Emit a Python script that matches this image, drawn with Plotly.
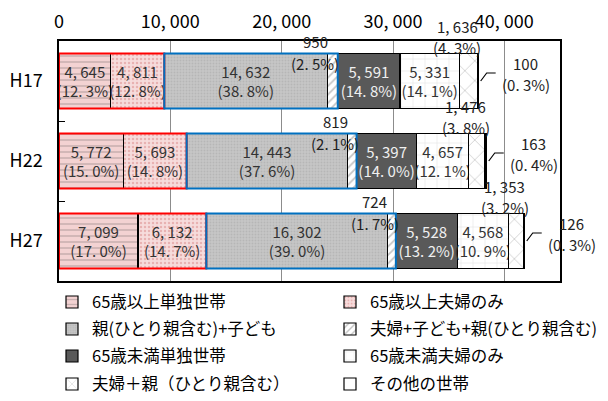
import plotly.graph_objects as go

# ---------------- data ----------------
years = ["H17", "H22", "H27"]
series_names = [
    "65歳以上単独世帯",
    "65歳以上夫婦のみ",
    "親(ひとり親含む)+子ども",
    "夫婦+子ども+親(ひとり親含む)",
    "65歳未満単独世帯",
    "65歳未満夫婦のみ",
    "夫婦＋親（ひとり親含む）",
    "その他の世帯",
]
v_single65 = [4645, 5772, 7099]
v_couple65 = [4811, 5693, 6132]
v_parent_child = [14632, 14443, 16302]
v_couple_child_parent = [950, 819, 724]
v_single_u65 = [5591, 5397, 5528]
v_couple_u65 = [5331, 4657, 4568]
v_couple_parent = [1636, 1476, 1353]
v_other = [100, 163, 126]

p_single65 = [12.3, 15.0, 17.0]
p_couple65 = [12.8, 14.8, 14.7]
p_parent_child = [38.8, 37.6, 39.0]
p_couple_child_parent = [2.5, 2.1, 1.7]
p_single_u65 = [14.8, 14.0, 13.2]
p_couple_u65 = [14.1, 12.1, 10.9]
p_couple_parent = [4.3, 3.8, 3.2]
p_other = [0.3, 0.4, 0.3]

x_tickvals = [0, 10000, 20000, 30000, 40000]
x_ticktext = ["0", "10, 000", "20, 000", "30, 000", "40, 000"]

values = [v_single65, v_couple65, v_parent_child, v_couple_child_parent,
          v_single_u65, v_couple_u65, v_couple_parent, v_other]
percents = [p_single65, p_couple65, p_parent_child, p_couple_child_parent,
            p_single_u65, p_couple_u65, p_couple_parent, p_other]

# ---------------- styles ----------------
FONT = "Noto Sans CJK JP, Noto Sans, sans-serif"
patterns = [
    dict(shape="-", bgcolor="#f3d2d2", fgcolor="#9a8a8a", size=6, solidity=0.25),
    dict(shape=".", bgcolor="#f6dcdc", fgcolor="#d98888", size=4, solidity=0.3),
    dict(shape=".", bgcolor="#c6c6c6", fgcolor="#a6a6a6", size=3, solidity=0.3),
    dict(shape="/", bgcolor="#ffffff", fgcolor="#8a8a8a", size=6, solidity=0.3),
    None,
    dict(shape="+", bgcolor="#ffffff", fgcolor="#bdbdbd", size=12, solidity=0.08),
    dict(shape="x", bgcolor="#ffffff", fgcolor="#8a8a8a", size=14, solidity=0.1),
    None,
]
colors = ["#f3d2d2", "#f6dcdc", "#c6c6c6", "#ffffff", "#595959", "#ffffff", "#ffffff", "#ffffff"]
text_colors = ["#333333", "#333333", "#333333", "#333333", "#f0f0f0", "#333333", "#333333", "#333333"]
inside_label = [True, True, True, False, True, True, False, False]
legend_ids = ["legend", "legend", "legend2", "legend2", "legend3", "legend3", "legend4", "legend4"]
# outside label offsets (px) for small segments: (xshift, yshift number line, yshift percent line)
outside_shift = {3: (-17, 40, 18), 6: (-11, 55, 34)}
other_shift = (47, 18, -3)

ML, MR, MT, MB = 51, 56, 33, 128
PLOT_H = 401 - MT - MB
LEG_FONT = 16.5


def fmt_num(n):
    return f"{n:,}".replace(",", ", ")


def fmt_pct(p):
    return "(" + f"{p:.1f}".replace(".", ". ") + "%)"


fig = go.Figure()
for k, name in enumerate(series_names):
    texts = [f"{fmt_num(v)}<br>{fmt_pct(p)}" if inside_label[k] else ""
             for v, p in zip(values[k], percents[k])]
    marker = dict(color=colors[k], line=dict(color="#000000", width=1.2))
    if patterns[k] is not None:
        marker["pattern"] = patterns[k]
    fig.add_trace(go.Bar(
        name=name, y=years, x=values[k], orientation="h",
        marker=marker, text=texts, textposition="inside",
        insidetextanchor="middle", textangle=0, constraintext="none",
        textfont=dict(family=FONT, size=15, color=text_colors[k]),
        hoverinfo="skip", cliponaxis=False, legend=legend_ids[k],
    ))

annotations = []
shapes = []
HALF = 0.345
lab_font = dict(family=FONT, size=15, color="#222222")
for i, yr in enumerate(years):
    cum = [0]
    for k in range(len(values)):
        cum.append(cum[-1] + values[k][i])
    total = cum[-1]
    for k, (dx, dy1, dy2) in outside_shift.items():
        xc = cum[k] + values[k][i] / 2
        annotations.append(dict(x=xc, y=i, xref="x", yref="y", text=fmt_num(values[k][i]),
                                showarrow=False, xshift=dx, yshift=dy1, font=lab_font))
        annotations.append(dict(x=xc, y=i, xref="x", yref="y", text=fmt_pct(percents[k][i]),
                                showarrow=False, xshift=dx, yshift=dy2, font=lab_font))
    dx, dy1, dy2 = other_shift
    annotations.append(dict(x=total, y=i, xref="x", yref="y", text=fmt_num(v_other[i]),
                            showarrow=False, xshift=dx, yshift=dy1, font=lab_font))
    annotations.append(dict(x=total, y=i, xref="x", yref="y", text=fmt_pct(p_other[i]),
                            showarrow=False, xshift=dx, yshift=dy2, font=lab_font))
    shapes.append(dict(
        type="path", xref="x", yref="y", xsizemode="pixel", ysizemode="pixel",
        xanchor=total, yanchor=i, path="M 2,0 L 8,8 L 17,8",
        line=dict(color="#000000", width=1.2)))
    shapes.append(dict(type="rect", xref="x", yref="y", x0=0, x1=cum[2],
                       y0=i - HALF, y1=i + HALF, line=dict(color="#ff0000", width=2)))
    shapes.append(dict(type="rect", xref="x", yref="y", x0=cum[2], x1=cum[4],
                       y0=i - HALF, y1=i + HALF, line=dict(color="#0070c0", width=2)))

# legend rows (screen y of row centres, figure drawn with an 8px page offset)
row_centres = [302, 329, 356, 384]
item_h = LEG_FONT * 1.3 + 3
legend_common = dict(orientation="h", xref="paper", yref="paper",
                     x=(44 - ML) / 501, xanchor="left", yanchor="top",
                     entrywidth=233, entrywidthmode="pixels", traceorder="normal",
                     font=dict(family=FONT, size=LEG_FONT, color="#000000"),
                     bgcolor="rgba(0,0,0,0)", itemclick=False, itemdoubleclick=False)
legends = {}
for r, lid in enumerate(["legend", "legend2", "legend3", "legend4"]):
    top = row_centres[r] - 8 - (item_h / 2 + 5)
    legends[lid] = dict(legend_common, y=((401 - MB) - top) / PLOT_H)

fig.update_layout(
    barmode="stack", bargap=0.31,
    width=608, height=401,
    margin=dict(l=ML, r=MR, t=MT, b=MB, autoexpand=False),
    paper_bgcolor="#ffffff", plot_bgcolor="#ffffff",
    font=dict(family=FONT, size=15, color="#000000"),
    showlegend=True,
    annotations=annotations, shapes=shapes,
    xaxis=dict(range=[0, 45000], autorange=False, side="top",
               tickvals=x_tickvals, ticktext=x_ticktext,
               showgrid=True, gridcolor="#8c8c8c", gridwidth=1, zeroline=False,
               showline=True, linecolor="#000000", linewidth=1.5, mirror=True,
               ticks="", ticklabelstandoff=4,
               tickfont=dict(family=FONT, size=18, color="#000000")),
    yaxis=dict(type="category", categoryorder="array", categoryarray=years,
               range=[2.5, -0.5], autorange=False, showgrid=False, zeroline=False,
               showline=True, linecolor="#000000", linewidth=1.5, mirror=True,
               ticks="inside", ticklen=6, tickcolor="#000000", tickwidth=1.2,
               tickson="boundaries", ticklabelstandoff=11,
               tickfont=dict(family=FONT, size=18, color="#000000")),
    **legends,
)

fig.write_html("out.html")
